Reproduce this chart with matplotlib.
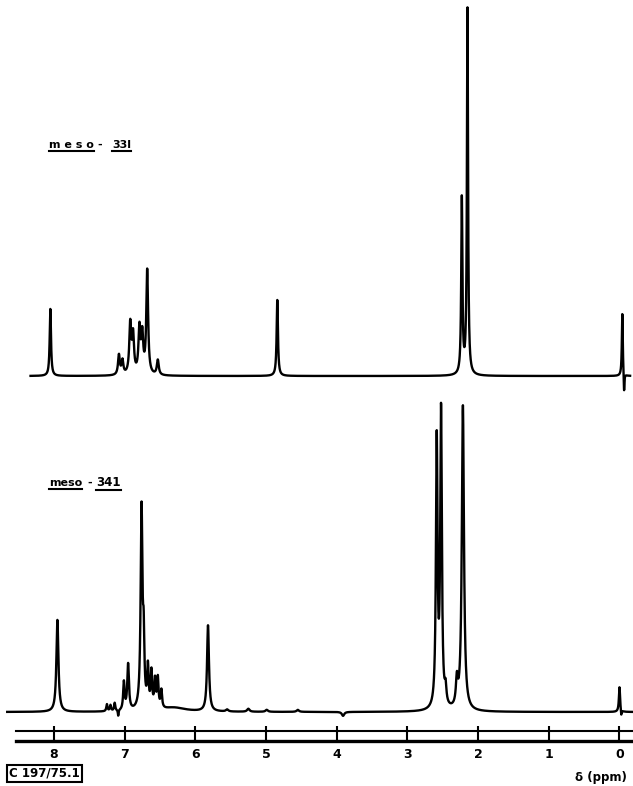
import matplotlib
matplotlib.use("Agg")
import matplotlib.pyplot as plt
import numpy as np
from matplotlib.lines import Line2D

# peaks: shift (ppm), height (px above baseline), half width (ppm)
upper_ppm = [8.05, 7.08, 7.03, 6.92, 6.88, 6.79, 6.75, 6.68, 6.53, 4.84,
             2.23, 2.15, -0.04, -0.065]
upper_height = [67, 20, 14, 50, 38, 45, 38, 104, 15, 76,
                176, 366, 63, -20]
upper_width = [0.011, 0.015, 0.015, 0.016, 0.016, 0.016, 0.016, 0.015, 0.016, 0.011,
               0.010, 0.0095, 0.008, 0.006]

lower_ppm = [7.95, 7.25, 7.20, 7.14, 7.09, 7.01, 6.95, 6.76, 6.73, 6.67, 6.62,
             6.57, 6.53, 6.48, 6.30, 5.82, 5.55, 5.25, 4.99, 4.55, 3.91,
             2.585, 2.524, 2.46, 2.30, 2.215, 0.0, -0.025]
lower_height = [92, 7, 6, 8, -6, 28, 46, 200, 60, 40, 36,
                28, 30, 18, 4, 86, 2, 3, 2, 2, -4,
                267, 295, 16, 26, 305, 25, -6]
lower_width = [0.017, 0.01, 0.01, 0.01, 0.006, 0.012, 0.014, 0.015, 0.012, 0.012, 0.012,
               0.012, 0.012, 0.012, 0.2, 0.016, 0.02, 0.02, 0.02, 0.02, 0.02,
               0.0135, 0.0135, 0.014, 0.016, 0.018, 0.01, 0.006]

ticks = [8, 7, 6, 5, 4, 3, 2, 1, 0]


def spectrum(grid, pos, height, width):
    y = np.zeros_like(grid)
    for p, h, w in zip(pos, height, width):
        y += h / (1 + ((grid - p) / w) ** 2)
    return y


W, H = 633, 786
fig = plt.figure(figsize=(W / 100, H / 100), dpi=100)

# spectra share one full-figure axes (x in ppm, y in px)
ax = fig.add_axes([0, 0, 1, 1])
ax.set_xlim(8.762, -0.191)
ax.set_ylim(0, H)
ax.axis("off")

g_up = np.linspace(8.33, -0.15, 6000)
g_lo = np.linspace(8.66, -0.19, 6000)
ax.plot(g_up, 410 + spectrum(g_up, upper_ppm, upper_height, upper_width),
        color="black", lw=1.7, solid_joinstyle="round")
ax.plot(g_lo, 74 + spectrum(g_lo, lower_ppm, lower_height, lower_width),
        color="black", lw=1.7, solid_joinstyle="round")

# ppm scale: thin line on top, thick line underneath
sax = fig.add_axes([16 / W, (H - 740.7) / H, 1 - 16 / W, 10 / H])
sax.set_xlim(8.536, -0.191)
sax.set_ylim(0, 1)
sax.set_yticks([])
for s in ["left", "right"]:
    sax.spines[s].set_visible(False)
sax.spines["top"].set_linewidth(1.5)
sax.spines["bottom"].set_linewidth(2.4)
sax.patch.set_alpha(0)
sax.set_xticks(ticks)
sax.set_xticklabels([str(t) for t in ticks], fontsize=9, fontweight="bold")
sax.tick_params(axis="x", direction="in", length=10.5, width=1.5, pad=5)

# labels
lab_kw = dict(fontsize=8, fontweight="bold", va="center", ha="left")
t1 = fig.text(49 / W, 1 - 145 / H, "m e s o", **lab_kw)
fig.text(97 / W, 1 - 145 / H, "-", **lab_kw)
t2 = fig.text(112 / W, 1 - 145 / H, "33l", **lab_kw)
t3 = fig.text(49 / W, 1 - 483 / H, "meso", **lab_kw)
fig.text(87 / W, 1 - 483 / H, "-", **lab_kw)
t4 = fig.text(96 / W, 1 - 483 / H, "341", fontsize=8.5, fontweight="bold",
              va="center", ha="left")

fig.text(9 / W, 1 - 773.5 / H, "C 197/75.1", fontsize=8.5, fontweight="bold",
         va="center", ha="left",
         bbox=dict(boxstyle="square,pad=0.15", fc="white", ec="black", lw=1.5))
fig.text(627 / W, 1 - 777 / H, "δ (ppm)", fontsize=8.5, fontweight="bold",
         va="center", ha="right")

# underline the compound labels
fig.canvas.draw()
r = fig.canvas.get_renderer()
inv = fig.transFigure.inverted()
for t in [t1, t2, t3, t4]:
    bb = t.get_window_extent(r)
    (x0, y0), (x1, _) = inv.transform([(bb.x0, bb.y0), (bb.x1, bb.y1)])
    fig.add_artist(Line2D([x0, x1], [y0 - 0.5 / H, y0 - 0.5 / H],
                          transform=fig.transFigure, color="black", lw=1.5))

fig.savefig("out.png", dpi=100)
